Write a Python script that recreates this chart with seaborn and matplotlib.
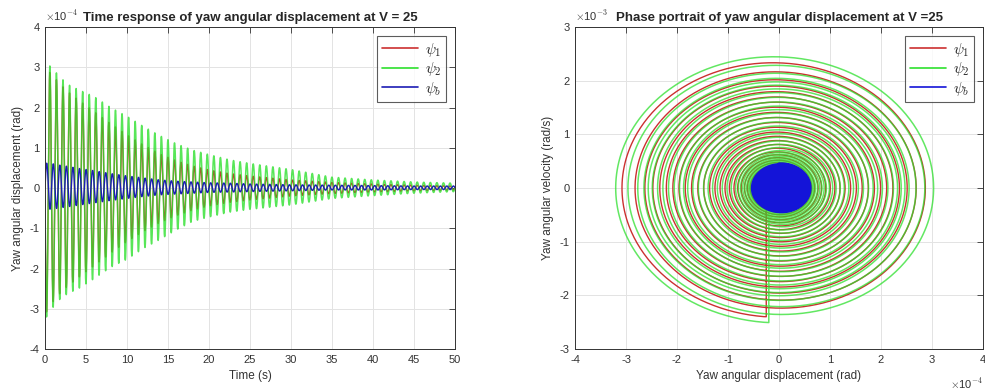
import numpy as np
import matplotlib
matplotlib.use("Agg")
import matplotlib.pyplot as plt
import seaborn as sns
from matplotlib.ticker import MultipleLocator, FuncFormatter

# ---------------- DATA (x1e-4 rad) ----------------
# envelope of the peaks / troughs at a few times
t_env = [0, 1, 2, 3, 4, 5, 6, 8, 10, 12, 14, 16, 18, 20, 22.5, 25, 30, 35, 40, 45, 50]

psi2_upper = [3.15, 2.95, 2.72, 2.55, 2.45, 2.36, 2.27, 2.00, 1.78, 1.53, 1.30, 1.10,
              0.94, 0.83, 0.70, 0.61, 0.46, 0.27, 0.20, 0.15, 0.12]
psi2_lower = [-3.26, -2.96, -2.72, -2.60, -2.51, -2.38, -2.25, -1.97, -1.77, -1.50, -1.28,
              -1.04, -0.83, -0.72, -0.60, -0.53, -0.42, -0.26, -0.19, -0.13, -0.09]

psi1_upper = [3.00, 2.78, 2.55, 2.36, 2.20, 2.05, 1.90, 1.60, 1.32, 1.07, 0.85, 0.68,
              0.55, 0.45, 0.36, 0.30, 0.20, 0.14, 0.10, 0.07, 0.05]
psi1_lower = [-3.14, -2.82, -2.58, -2.40, -2.24, -2.08, -1.93, -1.62, -1.33, -1.08, -0.86,
              -0.69, -0.55, -0.45, -0.36, -0.30, -0.20, -0.14, -0.10, -0.07, -0.05]

psib_upper = [0.62, 0.60, 0.56, 0.53, 0.49, 0.46, 0.43, 0.36, 0.30, 0.25, 0.20, 0.17,
              0.15, 0.13, 0.12, 0.10, 0.08, 0.07, 0.06, 0.05, 0.05]
psib_lower = [-0.54, -0.52, -0.49, -0.46, -0.43, -0.40, -0.37, -0.31, -0.26, -0.21, -0.17,
              -0.15, -0.13, -0.11, -0.10, -0.09, -0.07, -0.05, -0.05, -0.04, -0.04]

# starting displacement (x1e-4 rad) and oscillation period (s, spike spacing)
start_x = {"psi1": -0.25, "psi2": -0.20, "psib": 0.0}
PERIOD = 0.80

RED = "#cc3030"
GREEN = "#2ee02e"
BLUE = "#1c1cb4"
BLUE_BLOB = "#1414d8"
INK = "#333333"

# ---------------- BUILD TRACES ----------------
t = np.linspace(0, 50, 25001)
w = 2 * np.pi / PERIOD


def build(upper, lower, x0, rising):
    up = np.interp(t, t_env, upper)
    lo = np.interp(t, t_env, lower)
    amp = (up - lo) / 2
    mid = (up + lo) / 2
    s = np.clip((x0 - mid[0]) / amp[0], -1, 1)
    ph = np.arcsin(s) if rising else np.pi - np.arcsin(s)
    return (mid + amp * np.sin(w * t + ph)) * 1e-4


psi1 = build(psi1_upper, psi1_lower, start_x["psi1"], False)
psi2 = build(psi2_upper, psi2_lower, start_x["psi2"], False)
psib = build(psib_upper, psib_lower, start_x["psib"], True)


# phase portrait: velocity from the trace (psi1/psi2 start from rest)
def phase(x, from_rest=True):
    v = np.gradient(x, t)
    if from_rest:
        return np.r_[x[0], x], np.r_[0.0, v]
    return x, v


ph1 = phase(psi1)
ph2 = phase(psi2)
phb = phase(psib, from_rest=False)

# ---------------- STYLE ----------------
sns.set_theme(style="whitegrid")
plt.rcParams["font.family"] = ["Liberation Sans", "DejaVu Sans"]
plt.rcParams["mathtext.fontset"] = "cm"
plt.rcParams["axes.unicode_minus"] = False

fig = plt.figure(figsize=(9.85, 3.91), dpi=100)
ax1 = fig.add_axes([45 / 985, 1 - 349 / 391, 410 / 985, 322 / 391])
ax2 = fig.add_axes([575 / 985, 1 - 349 / 391, 408 / 985, 322 / 391])

# ---------------- 1. TIME RESPONSE ----------------
sns.lineplot(x=t, y=psi1, ax=ax1, color=RED, lw=1.0, label=r"$\psi_1$", estimator=None, sort=False)
sns.lineplot(x=t, y=psi2, ax=ax1, color=GREEN, lw=1.1, alpha=0.8, label=r"$\psi_2$", estimator=None, sort=False)
sns.lineplot(x=t, y=psib, ax=ax1, color=BLUE, lw=1.0, label=r"$\psi_b$", estimator=None, sort=False)
ax1.set_xlim(0, 50)
ax1.set_ylim(-4e-4, 4e-4)
ax1.xaxis.set_major_locator(MultipleLocator(5))
ax1.yaxis.set_major_locator(MultipleLocator(1e-4))
ax1.yaxis.set_major_formatter(FuncFormatter(lambda v, _: f"{v / 1e-4:g}"))
ax1.set_xlabel("Time (s)")
ax1.set_ylabel("Yaw angular displacement (rad)")
ax1.set_title("Time response of yaw angular displacement at V = 25", fontweight="bold", fontsize=9.5, pad=4)
ax1.text(0.0, 1.012, r"$\times$10$^{-4}$", transform=ax1.transAxes, fontsize=8, color=INK,
         ha="left", va="bottom")

# ---------------- 2. PHASE PORTRAIT ----------------
sns.lineplot(x=ph1[0], y=ph1[1], ax=ax2, color=RED, lw=1.0, label=r"$\psi_1$", estimator=None, sort=False)
sns.lineplot(x=ph2[0], y=ph2[1], ax=ax2, color=GREEN, lw=1.1, alpha=0.75, label=r"$\psi_2$", estimator=None, sort=False)
sns.lineplot(x=phb[0], y=phb[1], ax=ax2, color=BLUE_BLOB, lw=1.8, label=r"$\psi_b$", estimator=None, sort=False)
ax2.set_xlim(-4e-4, 4e-4)
ax2.set_ylim(-3e-3, 3e-3)
ax2.xaxis.set_major_locator(MultipleLocator(1e-4))
ax2.yaxis.set_major_locator(MultipleLocator(1e-3))
ax2.xaxis.set_major_formatter(FuncFormatter(lambda v, _: f"{v / 1e-4:g}"))
ax2.yaxis.set_major_formatter(FuncFormatter(lambda v, _: f"{v / 1e-3:g}"))
ax2.set_xlabel("Yaw angular displacement (rad)")
ax2.set_ylabel("Yaw angular velocity (rad/s)")
ax2.set_title("Phase portrait of yaw angular displacement at V =25", fontweight="bold", fontsize=9.5, pad=4)
ax2.text(0.0, 1.012, r"$\times$10$^{-3}$", transform=ax2.transAxes, fontsize=8, color=INK,
         ha="left", va="bottom")
ax2.text(1.0, -0.085, r"$\times$10$^{-4}$", transform=ax2.transAxes, fontsize=8, color=INK,
         ha="right", va="top")

for ax in (ax1, ax2):
    ax.set_facecolor("white")
    ax.grid(True, color="#e3e3e3", lw=0.7)
    for sp in ax.spines.values():
        sp.set_color(INK)
        sp.set_linewidth(0.7)
    ax.tick_params(direction="in", length=4, width=0.6, color=INK, labelsize=8,
                   labelcolor=INK, top=True, right=True, pad=4)
    ax.xaxis.label.set_size(8.5)
    ax.yaxis.label.set_size(8.5)
    ax.xaxis.label.set_color(INK)
    ax.yaxis.label.set_color(INK)
    leg = ax.legend(loc="upper right", frameon=True, fancybox=False, edgecolor=INK,
                    fontsize=11, handlelength=2.4, borderaxespad=0.6, labelspacing=0.1,
                    borderpad=0.3, handletextpad=0.4)
    leg.get_frame().set_linewidth(0.8)
    for ln in leg.get_lines():
        ln.set_alpha(1)
        ln.set_linewidth(1.2)

plt.savefig("out.png", dpi=100)
plt.close()
